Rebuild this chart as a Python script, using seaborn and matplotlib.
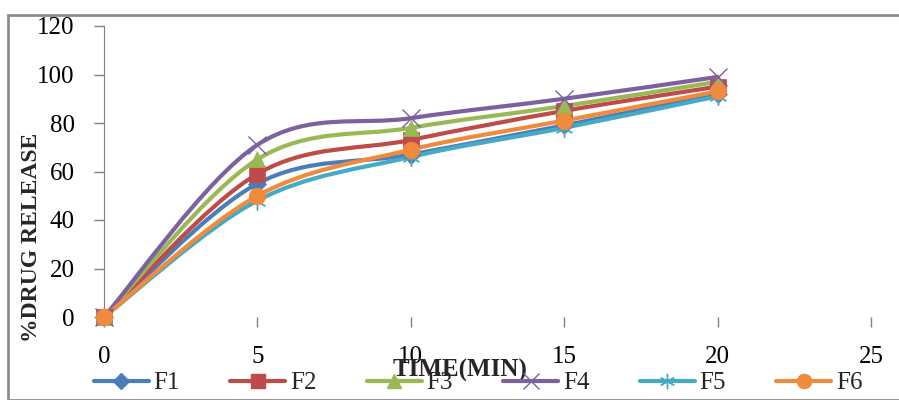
import matplotlib
matplotlib.use("Agg")
import matplotlib.pyplot as plt
import numpy as np
import seaborn as sns
from matplotlib.lines import Line2D
from matplotlib.patches import PathPatch, Rectangle
from matplotlib.path import Path

# data
time_min = [0, 5, 10, 15, 20]
f1 = [0, 55, 67, 79, 92]
f2 = [0, 59, 73, 85, 95]
f3 = [0, 65, 78, 87, 97]
f4 = [0, 71, 82, 90, 99]
f5 = [0, 48, 66, 78, 91]
f6 = [0, 50, 69, 81, 93]

series_names = ["F1", "F2", "F3", "F4", "F5", "F6"]
series_values = [f1, f2, f3, f4, f5, f6]
colors = ["#4A7EBB", "#BE4B48", "#98B954", "#7D60A0", "#46AAC5", "#F08A3C"]
markers = ["D", "s", "^", "x", (6, 2, 0), "o"]
marker_sizes = [9, 12, 12, 13, 13, 12]

sns.set_style("white")
plt.rcParams["font.family"] = ["Liberation Serif", "DejaVu Serif"]


def smooth_path(xs, ys):
    # Excel-style smoothed line: cubic bezier through the points
    pts = np.column_stack([xs, ys]).astype(float)
    n = len(pts)
    verts = [pts[0]]
    codes = [Path.MOVETO]
    for i in range(n - 1):
        p0 = pts[max(i - 1, 0)]
        p1 = pts[i]
        p2 = pts[i + 1]
        p3 = pts[min(i + 2, n - 1)]
        verts += [p1 + (p2 - p0) / 6, p2 - (p3 - p1) / 6, p2]
        codes += [Path.CURVE4] * 3
    return Path(verts, codes)


fig = plt.figure(figsize=(8.99, 4.0), dpi=100)
ax = fig.add_axes([104 / 899, 83 / 400, 767 / 899, 291 / 400])

for name, vals, c, m, ms in zip(series_names, series_values, colors, markers, marker_sizes):
    ax.add_patch(PathPatch(smooth_path(time_min, vals), facecolor="none",
                           edgecolor=c, lw=3, capstyle="round", zorder=2, clip_on=False))
    unfilled = m == "x" or isinstance(m, tuple)
    sns.lineplot(x=time_min, y=vals, ax=ax, marker=m, color=c, linestyle="",
                 markersize=ms, markeredgecolor=c,
                 markeredgewidth=1 if unfilled else 0.5, zorder=3, clip_on=False)

ax.set_xlim(0, 25)
ax.set_ylim(0, 120)
ax.set_xticks([0, 5, 10, 15, 20, 25])
ax.set_yticks([0, 20, 40, 60, 80, 100, 120])
ax.tick_params(axis="both", labelsize=18, colors="#808080", labelcolor="black",
               length=7, width=1, direction="out", pad=14)
ax.tick_params(axis="x", bottom=True)
ax.tick_params(axis="y", left=True)
for side in ["top", "right", "bottom"]:
    ax.spines[side].set_visible(False)
ax.spines["left"].set_color("#808080")
ax.set_xlabel("")
ax.set_ylabel("")

fig.text(32 / 899, 1 - 237 / 400, "%DRUG RELEASE", rotation=90, ha="center",
         va="center", fontsize=17, fontweight="bold")
fig.text(460 / 899, 1 - 370 / 400, "TIME(MIN)", ha="center", va="center",
         fontsize=18, fontweight="bold")

handles = [Line2D([], [], color=c, lw=3, marker=m, markersize=ms * 0.85,
                  markeredgecolor=c, markeredgewidth=1)
           for c, m, ms in zip(colors, markers, marker_sizes)]
fig.legend(handles, series_names, loc="center", bbox_to_anchor=(478 / 899, 1 - 383 / 400),
           ncol=6, frameon=False, fontsize=18, handlelength=2.2, columnspacing=2.0,
           handletextpad=0.2)

# gray chart-area border
fig.patches.append(Rectangle((8 / 899, 0), 1, 1 - 15 / 400, transform=fig.transFigure,
                             facecolor="none", edgecolor="#8c8c8c", lw=2, zorder=0))

fig.savefig("out.png", dpi=100)
